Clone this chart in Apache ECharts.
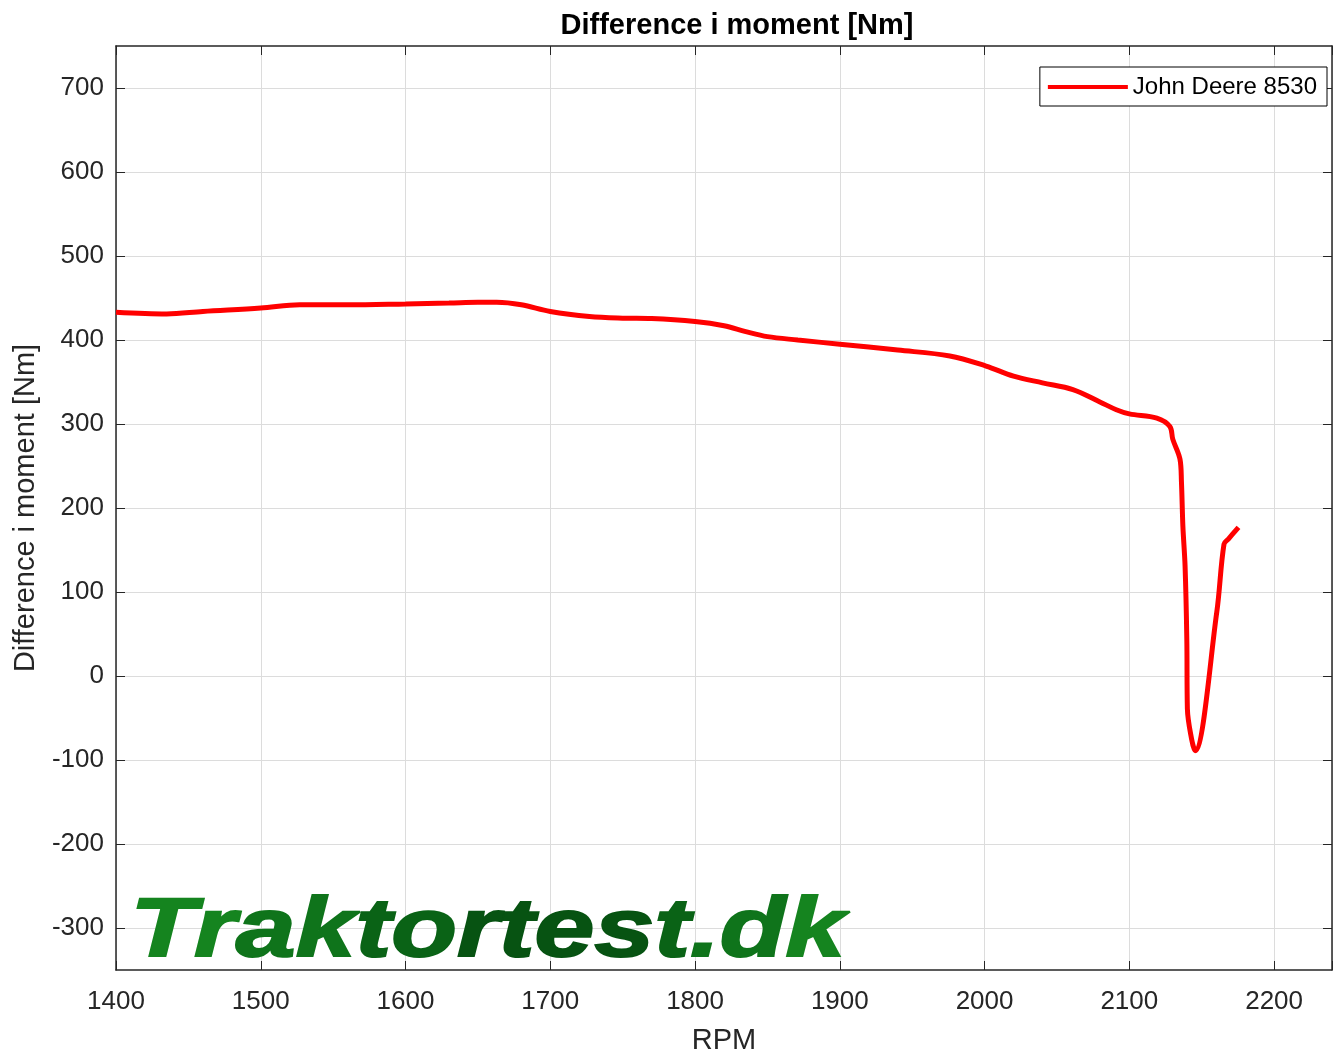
<!DOCTYPE html>
<html>
<head>
<meta charset="utf-8">
<script src="https://cdn.jsdelivr.net/npm/echarts@6/dist/echarts.min.js"></script>
<style>
html, body { margin: 0; padding: 0; background: #fff; }
#container { width: 1333px; height: 1056px; }
</style>
</head>
<body>
<div id="container"></div>
<script>
var rpm = [1400, 1435, 1460, 1500, 1527, 1560, 1600, 1630, 1650, 1663, 1680, 1700, 1727, 1750, 1770,
    1800, 1820, 1835, 1850, 1871, 1900, 1940, 1976, 2001, 2020, 2040, 2061, 2080, 2091, 2100, 2119,
    2128, 2130, 2135, 2136, 2137, 2138.5, 2139.7, 2140.1, 2143, 2145.4, 2160.4, 2165.4, 2168.4, 2175.4];
var torque = [433, 431, 434, 438, 442, 442, 443, 444, 445, 445, 442, 434, 428, 426, 425.5,
    422, 417, 410, 404, 400, 395, 388, 381, 369, 357, 349, 341, 326, 317, 312, 307,
    297, 282, 258, 231, 178, 131, 44, -39, -75, -89, 76, 157, 163, 177];
var yTicks = [-300, -200, -100, 0, 100, 200, 300, 400, 500, 600, 700];
var seriesName = 'John Deere 8530';

var dom = document.getElementById("container");
var myChart = echarts.init(dom);
var font = 'Liberation Sans, Arial, Helvetica, sans-serif';
var axisColor = '#262626';
var markFont = 'italic 900 84px ' + font;

var points = [];
for (var i = 0; i < rpm.length; i++) {
    points.push([rpm[i], torque[i]]);
}

var option = {
    backgroundColor: '#fff',
    textStyle: { fontFamily: font },
    title: {
        text: 'Difference i moment [Nm]',
        left: 732,
        textAlign: 'center',
        top: 6,
        textStyle: { fontSize: 29, fontWeight: 'bold', color: '#000', fontFamily: font }
    },
    grid: { left: 116, right: 1, top: 46, bottom: 86, outerBoundsMode: 'none', containLabel: false },
    legend: {
        right: 6,
        top: 67,
        icon: 'rect',
        itemWidth: 80,
        itemHeight: 4,
        itemGap: 6,
        padding: [8, 10, 7, 8],
        borderColor: '#000',
        borderWidth: 1,
        backgroundColor: '#fff',
        textStyle: { fontSize: 24, color: '#000', fontFamily: font },
        data: [seriesName]
    },
    xAxis: [{
        type: 'value',
        min: 1400,
        max: 2240,
        interval: 100,
        name: 'RPM',
        nameLocation: 'middle',
        nameGap: 56,
        nameTextStyle: { fontSize: 29, color: axisColor },
        axisLine: { onZero: false, lineStyle: { color: axisColor, width: 1.5 } },
        axisTick: { inside: true, length: 9, lineStyle: { color: axisColor } },
        axisLabel: {
            fontSize: 26, color: axisColor, margin: 19,
            formatter: function (v) { return v % 100 === 0 ? String(v) : ''; }
        },
        splitLine: { show: true, lineStyle: { color: '#dcdcdc', width: 1 } }
    }, {
        type: 'value',
        position: 'top',
        min: 1400,
        max: 2240,
        interval: 100,
        axisLine: { show: true, onZero: false, lineStyle: { color: axisColor, width: 1.5 } },
        axisTick: { show: true, inside: true, length: 9, lineStyle: { color: axisColor } },
        axisLabel: { show: false },
        splitLine: { show: false }
    }],
    yAxis: [{
        type: 'value',
        min: -350,
        max: 750,
        name: 'Difference i moment [Nm]',
        nameLocation: 'middle',
        nameGap: 76,
        nameTextStyle: { fontSize: 29, color: axisColor },
        axisLine: { show: true, onZero: false, lineStyle: { color: axisColor, width: 1.5 } },
        axisTick: { show: true, inside: true, length: 9, customValues: yTicks, lineStyle: { color: axisColor } },
        axisLabel: { fontSize: 26, color: axisColor, margin: 12, customValues: yTicks },
        splitLine: { show: true, lineStyle: { color: '#dcdcdc', width: 1 } }
    }, {
        type: 'value',
        position: 'right',
        min: -350,
        max: 750,
        axisLine: { show: true, onZero: false, lineStyle: { color: axisColor, width: 1.5 } },
        axisTick: { show: true, inside: true, length: 9, customValues: yTicks, lineStyle: { color: axisColor } },
        axisLabel: { show: false },
        splitLine: { show: false }
    }],
    graphic: [{
        type: 'text',
        left: 129,
        top: 890,
        z: 1,
        scaleX: 1.28,
        style: {
            text: '{a|Tr}{b|ak}{c|to}{d|rtes}{c|t}{b|.d}{a|k}',
            font: markFont,
            stroke: null,
            rich: {
                a: { font: markFont, fill: '#15841f', stroke: '#15841f', lineWidth: 2 },
                b: { font: markFont, fill: '#0f741b', stroke: '#0f741b', lineWidth: 2 },
                c: { font: markFont, fill: '#0a6316', stroke: '#0a6316', lineWidth: 2 },
                d: { font: markFont, fill: '#075312', stroke: '#075312', lineWidth: 2 }
            }
        }
    }],
    series: [{
        name: seriesName,
        type: 'line',
        data: points,
        showSymbol: false,
        smooth: 0.35,
        z: 3,
        lineStyle: { color: '#ff0000', width: 5 },
        itemStyle: { color: '#ff0000' }
    }]
};

if (option && typeof option === "object") {
    myChart.setOption(option, true);
}
</script>
</body>
</html>
